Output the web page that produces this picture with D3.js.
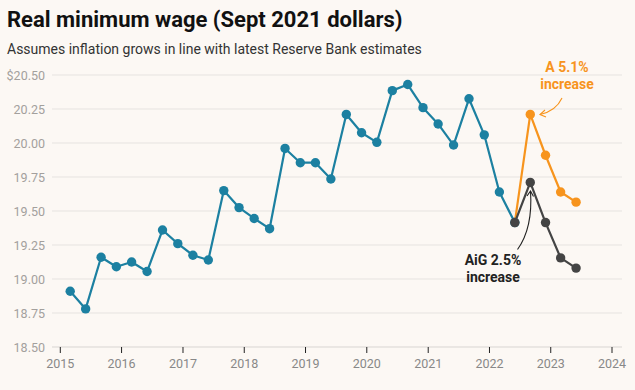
<!DOCTYPE html>
<html><head><meta charset="utf-8">
<script src="https://cdn.jsdelivr.net/npm/d3@7"></script>
<style>
body{margin:0;background:#fcf8f4;font-family:Roboto,"Noto Sans",sans-serif;}
</style></head><body>
<svg id="c" width="635" height="390"></svg>
<script>
const histDates = ["2015-03","2015-06","2015-09","2015-12","2016-03","2016-06","2016-09","2016-12","2017-03","2017-06","2017-09","2017-12","2018-03","2018-06","2018-09","2018-12","2019-03","2019-06","2019-09","2019-12","2020-03","2020-06","2020-09","2020-12","2021-03","2021-06","2021-09","2021-12","2022-03","2022-06"];
const histValues = [18.91,18.78,19.16,19.09,19.125,19.055,19.36,19.26,19.175,19.14,19.65,19.525,19.445,19.37,19.96,19.855,19.855,19.735,20.21,20.075,20.005,20.385,20.43,20.26,20.14,19.985,20.325,20.06,19.64,19.415];
const projDates = ["2022-06","2022-09","2022-12","2023-03","2023-06"];
const fwcValues = [19.415,20.21,19.91,19.64,19.565];
const aigValues = [19.415,19.71,19.415,19.155,19.08];
const yTicks = [18.5,18.75,19,19.25,19.5,19.75,20,20.25,20.5];
const xTicks = [2015,2016,2017,2018,2019,2020,2021,2022,2023,2024];

const svg = d3.select("#c");
const parse = d3.timeParse("%Y-%m");
const mLeft = 52, mRight = 622, mTop = 75, mBottom = 347;
const x = d3.scaleTime().domain([new Date(2015,0,1), new Date(2024,0,1)]).range([60.3, 612]);
const y = d3.scaleLinear().domain([18.5, 20.5]).range([mBottom, mTop]);

svg.append("text").attr("x",7).attr("y",27).attr("font-size",22).attr("font-weight",700).attr("fill","#111")
  .text("Real minimum wage (Sept 2021 dollars)");
svg.append("text").attr("x",7).attr("y",54).attr("font-size",14).attr("fill","#333")
  .text("Assumes inflation grows in line with latest Reserve Bank estimates");

// grid
svg.append("g").selectAll("line").data(yTicks).join("line")
  .attr("x1",mLeft).attr("x2",mRight).attr("y1",d=>y(d)).attr("y2",d=>y(d))
  .attr("stroke",d=>d===18.5?"#d8d5d2":"#e6e3e0").attr("stroke-width",1);
svg.append("g").selectAll("text").data(yTicks).join("text")
  .attr("x",45).attr("y",d=>y(d)+4.5).attr("text-anchor","end").attr("font-size",12.5).attr("fill","#a3a09d")
  .text((d,i)=> (i===yTicks.length-1?"$":"") + d3.format(".2f")(d));

// x axis
const xa = svg.append("g");
xa.selectAll("line").data(xTicks).join("line")
  .attr("x1",d=>x(new Date(d,0,1))).attr("x2",d=>x(new Date(d,0,1))).attr("y1",mBottom).attr("y2",mBottom+6)
  .attr("stroke","#222").attr("stroke-width",1);
xa.selectAll("text").data(xTicks).join("text")
  .attr("x",d=>x(new Date(d,0,1))).attr("y",368).attr("text-anchor","middle").attr("font-size",12.5).attr("fill","#888")
  .text(d=>d);

const line = d3.line().x(d=>x(d.date)).y(d=>y(d.v));
function series(dates, vals, color, skipFirstDot){
  const data = dates.map((d,i)=>({date:parse(d), v:vals[i]}));
  svg.append("path").datum(data).attr("d",line).attr("fill","none").attr("stroke",color).attr("stroke-width",2.2).attr("stroke-linejoin","round");
  svg.append("g").selectAll("circle").data(skipFirstDot?data.slice(1):data).join("circle")
    .attr("cx",d=>x(d.date)).attr("cy",d=>y(d.v)).attr("r",4.7).attr("fill",color);
}
const blue="#1c80a1", orange="#f7941d", grey="#444444";
series(histDates, histValues, blue, false);
series(projDates, fwcValues, orange, true);
series(projDates, aigValues, grey, false);

// annotations
function anno(lines, cx, y0, color){
  const t = svg.append("text").attr("text-anchor","middle").attr("font-size",14).attr("font-weight",700).attr("fill",color);
  lines.forEach((l,i)=>t.append("tspan").attr("x",cx).attr("y",y0+i*17).text(l));
}
anno(["A 5.1%","increase"],567,72,orange);
anno(["AiG 2.5%","increase"],493,265,"#222");

function arrow(p0,c,p1,color,head){
  svg.append("path").attr("d",`M${p0[0]},${p0[1]} Q${c[0]},${c[1]} ${p1[0]},${p1[1]}`)
    .attr("fill","none").attr("stroke",color).attr("stroke-width",1.1);
  svg.append("path").attr("d",head).attr("fill","none").attr("stroke",color).attr("stroke-width",1.1);
}
arrow([562,98],[556,111],[540,114.5],orange,"M545,110 L540,114.5 L546,117");
arrow([517.5,249.5],[533,228],[530.5,191],"#222","M527,196 L530.5,191 L533.5,196.5");
</script>
</body></html>
